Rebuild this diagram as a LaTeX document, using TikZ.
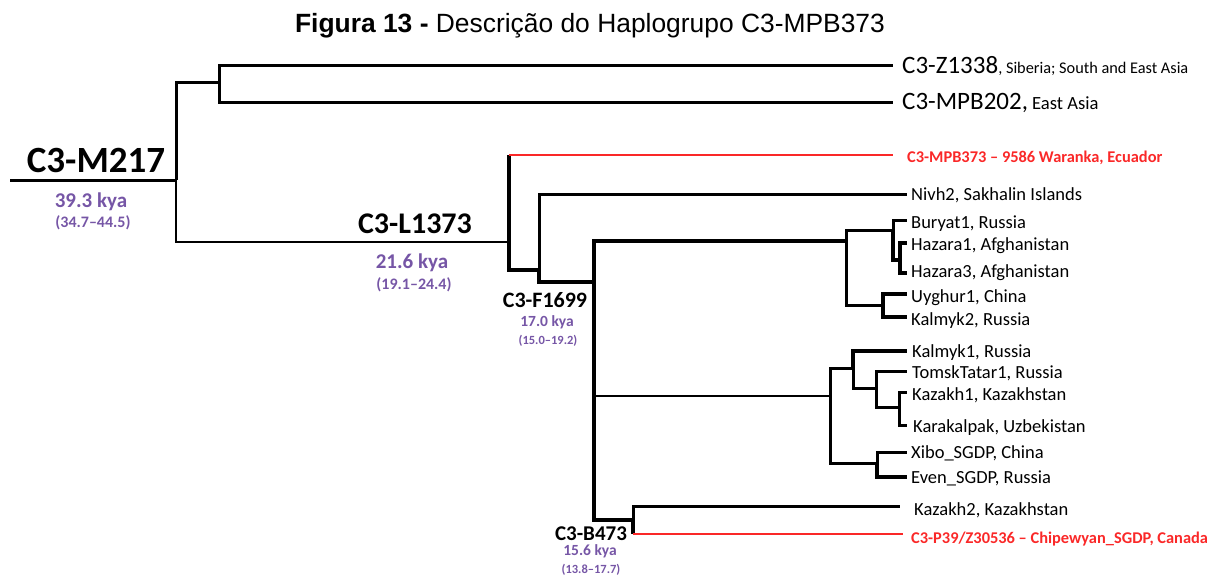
\documentclass[tikz,border=0pt]{standalone}
\usepackage{fontspec}
\setmainfont{Carlito}
\newfontfamily\titlefont{Liberation Sans}
\definecolor{kyapurple}{RGB}{118,86,166}
\definecolor{leafred}{RGB}{250,40,40}
\tikzset{
  br/.style={line width=3pt, line join=miter, line cap=butt},
  brthick/.style={line width=4.2pt, line join=miter},
  brthin/.style={line width=2pt},
  brred/.style={line width=2.4pt, draw=leafred},
  leaf/.style={anchor=base west, inner sep=0pt, font=\fontsize{18.5}{20}\selectfont},
  redleaf/.style={anchor=base west, inner sep=0pt, text=leafred, font=\fontsize{16.4}{18}\selectfont\bfseries},
  clade/.style={anchor=base, inner sep=0pt, font=\bfseries},
  kya/.style={anchor=base, inner sep=0pt, text=kyapurple, font=\bfseries},
}
\begin{document}
\begin{tikzpicture}[x=1pt,y=-1pt]
\useasboundingbox (0,0) rectangle (1222,576);
% title
\node[anchor=base, inner sep=0pt, font=\titlefont\fontsize{26.4}{28}\selectfont] (title) at (590,32) {\textbf{Figura 13 -} Descrição do Haplogrupo C3-MPB373};
% internal nodes
\coordinate (r0) at (10,180);
\coordinate (M) at (176,180);
\coordinate (A) at (219,82);
\coordinate (L) at (509,242);
\coordinate (F) at (539,270);
\coordinate (G) at (594,282);
\coordinate (H) at (846,241);
\coordinate (H1) at (893,230);
\coordinate (H3) at (900,260);
\coordinate (H2) at (883,305);
\coordinate (K) at (830,396);
\coordinate (K1) at (853,368);
\coordinate (K3) at (876,388);
\coordinate (K4) at (899,407);
\coordinate (K2) at (877,463);
\coordinate (B) at (633,520);
% leaf end points
\coordinate (eZ) at (893,65);
\coordinate (eMPB202) at (893,102);
\coordinate (eMPB373) at (893,155);
\coordinate (eNivh) at (907,194);
\coordinate (eBur) at (907,220);
\coordinate (eHaz1) at (907,243);
\coordinate (eHaz3) at (907,273);
\coordinate (eUyg) at (907,294);
\coordinate (eKal2) at (907,317);
\coordinate (eKal1) at (907,351);
\coordinate (eTom) at (907,371);
\coordinate (eKaz1) at (907,392);
\coordinate (eKara) at (907,425);
\coordinate (eXibo) at (907,452);
\coordinate (eEven) at (907,477);
\coordinate (eKaz2) at (900,506);
\coordinate (eP39) at (903,534);
% branches
\draw[br] (r0) -- (M);
\draw[br] (M) |- (A);
\draw[br] (A) |- (eZ);
\draw[br] (A) |- (eMPB202);
\draw[brthin] (M) |- (L);
\draw[brthick] (L) |- (F);
\draw[brthick] (L) -- (L|-eMPB373);
\draw[brred] (L|-eMPB373) -- (eMPB373);
\draw[br] (F) |- (eNivh);
\draw[brthick] (F) |- (G);
\draw[brthick] (G) |- (H);
\draw[brthin] (G) |- (K);
\draw[brthick] (G) |- (B);
\draw[br] (H) |- (H1);
\draw[br] (H) |- (H2);
\draw[br] (H1) |- (eBur);
\draw[brthick] (H1) |- (H3);
\draw[brthick] (H3) |- (eHaz1);
\draw[brthick] (H3) |- (eHaz3);
\draw[brthick] (H2) |- (eUyg);
\draw[brthick] (H2) |- (eKal2);
\draw[br] (K) |- (K1);
\draw[br] (K) |- (K2);
\draw[brthick] (K1) |- (eKal1);
\draw[br] (K1) |- (K3);
\draw[br] (K3) |- (eTom);
\draw[br] (K3) |- (K4);
\draw[br] (K4) |- (eKaz1);
\draw[br] (K4) |- (eKara);
\draw[br] (K2) |- (eXibo);
\draw[brthick] (K2) |- (eEven);
\draw[br] (B) |- (eKaz2);
\draw[brthick] (B) -- (B|-eP39);
\draw[brred] (B|-eP39) -- (eP39);
% leaf labels
\node[leaf, anchor=base west] (lZ) at (902,73) {\fontsize{25}{27}\selectfont C3-Z1338\fontsize{16.3}{18}\selectfont, Siberia; South and East Asia};
\node[leaf, anchor=base west] (lMPB202) at (902,109) {\fontsize{25}{27}\selectfont C3-MPB202,\fontsize{18.6}{20}\selectfont{} East Asia};
\node[redleaf] (lMPB373) at (907,162) {C3-MPB373 – 9586 Waranka, Ecuador};
\node[leaf] (lNivh) at (911,200) {Nivh2, Sakhalin Islands};
\node[leaf] (lBur) at (911,228) {Buryat1, Russia};
\node[leaf] (lHaz1) at (911,250) {Hazara1, Afghanistan};
\node[leaf] (lHaz3) at (911,277) {Hazara3, Afghanistan};
\node[leaf] (lUyg) at (911,302) {Uyghur1, China};
\node[leaf] (lKal2) at (911,325) {Kalmyk2, Russia};
\node[leaf] (lKal1) at (912,357) {Kalmyk1, Russia};
\node[leaf] (lTom) at (912,378) {TomskTatar1, Russia};
\node[leaf] (lKaz1) at (912,400) {Kazakh1, Kazakhstan};
\node[leaf] (lKara) at (913,432) {Karakalpak, Uzbekistan};
\node[leaf] (lXibo) at (911,458) {Xibo\_SGDP, China};
\node[leaf] (lEven) at (911,483) {Even\_SGDP, Russia};
\node[leaf] (lKaz2) at (914,515) {Kazakh2, Kazakhstan};
\node[redleaf] (lP39) at (911,543) {C3-P39/Z30536 – Chipewyan\_SGDP, Canada};
% clade labels
\node[clade, font=\bfseries\fontsize{37}{39}\selectfont] (cM) at (96,172) {C3-M217};
\node[kya, font=\bfseries\fontsize{21}{23}\selectfont] (kM) at (91,207) {39.3 kya};
\node[kya, font=\bfseries\fontsize{16}{18}\selectfont] (rM) at (93,227) {(34.7–44.5)};
\node[clade, font=\bfseries\fontsize{30}{32}\selectfont] (cL) at (415,233) {C3-L1373};
\node[kya, font=\bfseries\fontsize{21}{23}\selectfont] (kL) at (412,268) {21.6 kya};
\node[kya, font=\bfseries\fontsize{16}{18}\selectfont] (rL) at (414,289) {(19.1–24.4)};
\node[clade, font=\bfseries\fontsize{22}{24}\selectfont] (cF) at (545,307) {C3-F1699};
\node[kya, font=\bfseries\fontsize{15.5}{17}\selectfont] (kF) at (547,326) {17.0 kya};
\node[kya, font=\bfseries\fontsize{12.5}{14}\selectfont] (rF) at (548,344) {(15.0–19.2)};
\node[clade, font=\bfseries\fontsize{21}{23}\selectfont] (cB) at (591,540) {C3-B473};
\node[kya, font=\bfseries\fontsize{15.5}{17}\selectfont] (kB) at (590,555) {15.6 kya};
\node[kya, font=\bfseries\fontsize{12.5}{14}\selectfont] (rB) at (591,573) {(13.8–17.7)};
\end{tikzpicture}
\end{document}
